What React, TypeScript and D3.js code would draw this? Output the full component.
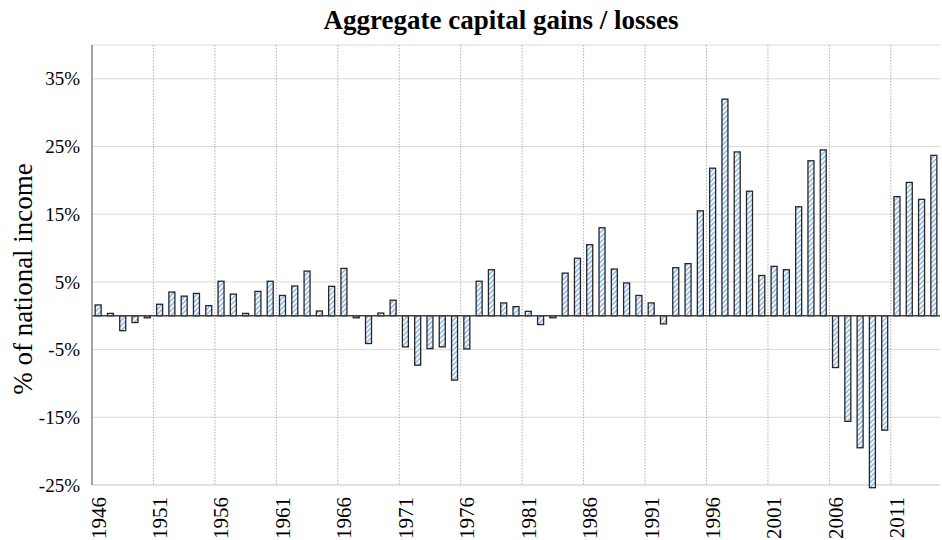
import React from "react";
import * as d3 from "d3";

const years: number[] = d3.range(1946, 2015);
const values: number[] = [
  1.6, 0.35, -2.2, -1.0, -0.3, 1.7, 3.5, 2.9, 3.3, 1.5,
  5.1, 3.2, 0.35, 3.6, 5.1, 3.0, 4.4, 6.6, 0.7, 4.35,
  7.0, -0.3, -4.1, 0.4, 2.3, -4.6, -7.3, -4.85, -4.6, -9.5,
  -4.9, 5.1, 6.8, 1.9, 1.35, 0.65, -1.3, -0.3, 6.3, 8.5,
  10.5, 13.0, 6.9, 4.85, 3.0, 1.9, -1.2, 7.1, 7.7, 15.5,
  21.8, 32.0, 24.2, 18.4, 5.95, 7.3, 6.8, 16.1, 22.9, 24.5,
  -7.65, -15.6, -19.5, -25.4, -16.9, 17.6, 19.7, 17.2, 23.7,
];
const yTicks: number[] = [-25, -15, -5, 5, 15, 25, 35];
const xLabelYears: number[] = [1946, 1951, 1956, 1961, 1966, 1971, 1976, 1981, 1986, 1991, 1996, 2001, 2006, 2011];
const title = "Aggregate capital gains / losses";
const yTitle = "% of national income";

const W = 942;
const H = 540;
const left = 92;
const right = 940;
const top = 45;
const bottom = 485;
const font = "Liberation Serif, Times New Roman, Times, DejaVu Serif, serif";

export default function App() {
  const x = d3.scaleBand<number>().domain(years).range([left, right]).paddingInner(0).paddingOuter(0);
  const y = d3.scaleLinear().domain([-25, 40]).range([bottom, top]);
  const bw = 6;
  const y0 = y(0);
  const ts = { fontFamily: font } as React.CSSProperties;

  return (
    <svg width={W} height={H} style={{ position: "absolute", left: 0, top: 0, background: "#fff" }}>
      <defs>
        <pattern id="stripes" patternUnits="userSpaceOnUse" width="3.5" height="3.5" patternTransform="rotate(45)">
          <rect width="3.5" height="3.5" fill="#ffffff" />
          <rect width="1.8" height="3.5" fill="#9cc0ea" />
        </pattern>
      </defs>
      <rect x={0} y={0} width={W} height={H} fill="#fff" />
      <text x={501} y={29} textAnchor="middle" style={ts} fontWeight="bold" fontSize={27} fill="#000">
        {title}
      </text>
      {yTicks.map((t) => (
        <line key={t} x1={left} x2={right} y1={y(t)} y2={y(t)} stroke="#d9d9d9" strokeWidth={1} />
      ))}
      <line x1={left} x2={right} y1={top} y2={top} stroke="#d9d9d9" strokeWidth={1} />
      {xLabelYears.slice(1).map((yr) => (
        <line
          key={yr}
          x1={x(yr)!}
          x2={x(yr)!}
          y1={top}
          y2={bottom}
          stroke="#b0b0b0"
          strokeWidth={1}
          strokeDasharray="1.5 1.5"
        />
      ))}
      <line x1={left} x2={right} y1={bottom} y2={bottom} stroke="#d9d9d9" strokeWidth={1} />
      {values.map((v, i) => {
        const cx = x(years[i])! + x.bandwidth() / 2;
        const yv = y(v);
        const yt = Math.min(yv, y0);
        const h = Math.max(Math.abs(yv - y0), 1.5);
        return (
          <rect
            key={years[i]}
            x={cx - bw / 2}
            y={yt}
            width={bw}
            height={h}
            fill="url(#stripes)"
            stroke="#262626"
            strokeWidth={1.3}
          />
        );
      })}
      <line x1={left} x2={right} y1={y0} y2={y0} stroke="#404040" strokeWidth={1.5} />
      <line x1={left} x2={left} y1={top} y2={bottom} stroke="#868686" strokeWidth={1.5} />
      {yTicks.map((t) => (
        <text key={t} x={80} y={y(t)} dy="0.35em" textAnchor="end" style={ts} fontSize={19} fill="#000">
          {`${t}%`}
        </text>
      ))}
      {xLabelYears.map((yr) => {
        const cx = x(yr)! + x.bandwidth() / 2;
        return (
          <text
            key={yr}
            transform={`translate(${cx},${bottom + 12}) rotate(-90)`}
            dy="0.35em"
            textAnchor="end"
            style={ts}
            fontSize={21}
            fill="#000"
          >
            {yr}
          </text>
        );
      })}
      <text
        transform={`translate(23,${279}) rotate(-90)`}
        textAnchor="middle"
        dy="0.35em"
        style={ts}
        fontSize={27}
        fill="#000"
      >
        {yTitle}
      </text>
    </svg>
  );
}
